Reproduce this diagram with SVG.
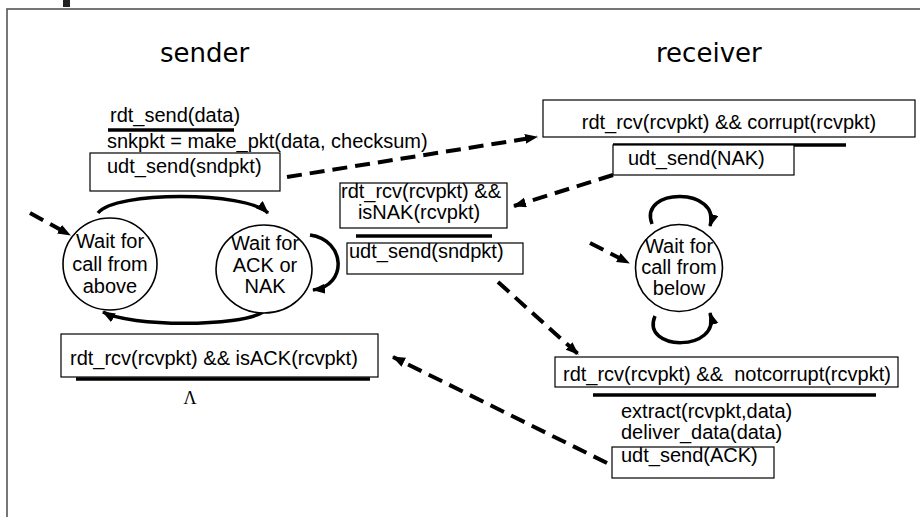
<svg xmlns="http://www.w3.org/2000/svg" width="920" height="517" viewBox="0 0 920 517">
<style>
.t{font-family:"Liberation Sans",Arial,sans-serif;font-size:20px;fill:#000}
.h{font-family:"DejaVu Sans",Verdana,sans-serif;font-size:26px;fill:#000}
.box{fill:#fff;stroke:#000;stroke-width:1.2}
.st{fill:#fff;stroke:#000;stroke-width:1.6}
.bar{stroke:#000;stroke-width:3.5}
.dash{fill:none;stroke:#000;stroke-width:4;stroke-dasharray:15 8;marker-end:url(#ah)}
.arc{fill:none;stroke:#000;stroke-width:3.5;marker-end:url(#ah)}
.m{text-anchor:middle}
</style>
<defs>
<marker id="ah" markerUnits="userSpaceOnUse" markerWidth="14" markerHeight="12" refX="12" refY="5" orient="auto">
<path d="M0,0 L13,5 L0,10 z" fill="#000"/>
</marker>
</defs>
<rect x="0" y="0" width="920" height="517" fill="#fff"/>
<rect x="7" y="9" width="930" height="530" fill="none" stroke="#555" stroke-width="1.6"/>
<rect x="63" y="0" width="7" height="7" fill="#222"/>
<text class="h" x="160" y="62">sender</text>
<text class="h" x="656" y="62">receiver</text>

<g id="connectors">
<path class="dash" d="M287,177 L537,137"/>
<path class="dash" d="M613,175 L514,206"/>
<path class="dash" d="M498,282 L578,354"/>
<path class="dash" d="M607,463 L393,357"/>
<path class="dash" d="M30,213 L70,235"/>
<path class="dash" d="M590,243 L629,263"/>
<path class="arc" d="M98,213 C115,191 245,191 268,213"/>
<path class="arc" d="M263,312 C240,327 130,327 103,312"/>
<path class="arc" d="M310,235 C346,240 348,286 313,290"/>
<path class="arc" d="M652,224 C638,187 722,187 710,226"/>
<path class="arc" d="M655,316 C640,352 722,352 710,313"/>
</g>

<g id="state-wait-above">
<ellipse class="st" cx="110" cy="264" rx="47" ry="46"/>
<text class="t m" x="110" y="248">Wait for</text>
<text class="t m" x="110" y="271">call from</text>
<text class="t m" x="110" y="293">above</text>
</g>
<g id="state-wait-ack">
<ellipse class="st" cx="264" cy="269" rx="48" ry="44"/>
<text class="t m" x="265" y="250">Wait for</text>
<text class="t m" x="265" y="272">ACK or</text>
<text class="t m" x="265" y="293">NAK</text>
</g>
<g id="state-wait-below">
<circle class="st" cx="679" cy="268" r="43.5"/>
<text class="t m" x="679" y="253">Wait for</text>
<text class="t m" x="679" y="274">call from</text>
<text class="t m" x="679" y="295">below</text>
</g>

<g id="label-send">
<text class="t" x="110" y="122">rdt_send(data)</text>
<line class="bar" x1="108" y1="130" x2="234" y2="130"/>
<text class="t" x="107" y="148">snkpkt = make_pkt(data, checksum)</text>
<rect class="box" x="90" y="153" width="190" height="38"/>
<text class="t" x="107" y="173">udt_send(sndpkt)</text>
</g>

<g id="label-corrupt">
<rect class="box" x="543" y="100" width="372" height="37"/>
<text class="t m" x="729" y="129">rdt_rcv(rcvpkt) &amp;&amp; corrupt(rcvpkt)</text>
<line class="bar" x1="613" y1="145" x2="846" y2="145"/>
<rect class="box" x="613" y="145" width="181" height="30"/>
<text class="t" x="628" y="165">udt_send(NAK)</text>
</g>

<g id="label-nak">
<rect class="box" x="340" y="183" width="167" height="45"/>
<text class="t m" x="421" y="198">rdt_rcv(rcvpkt) &amp;&amp;</text>
<text class="t m" x="419" y="219">isNAK(rcvpkt)</text>
<line class="bar" x1="356" y1="236" x2="492" y2="236"/>
<rect class="box" x="347" y="243" width="176" height="31"/>
<text class="t" x="349" y="258">udt_send(sndpkt)</text>
</g>

<g id="label-ack">
<rect class="box" x="61" y="334" width="317" height="43"/>
<text class="t" x="70" y="365">rdt_rcv(rcvpkt) &amp;&amp; isACK(rcvpkt)</text>
<line class="bar" x1="76" y1="379" x2="370" y2="379"/>
<text x="190" y="404" text-anchor="middle" style="font-family:'Liberation Serif','Times New Roman',serif;font-size:18px">Λ</text>
</g>

<g id="label-notcorrupt">
<rect class="box" x="555" y="357" width="343" height="30"/>
<text class="t" x="563" y="381" xml:space="preserve" style="white-space:pre">rdt_rcv(rcvpkt) &amp;&amp;  notcorrupt(rcvpkt)</text>
<line class="bar" x1="593" y1="395" x2="876" y2="395"/>
<text class="t" x="621" y="418">extract(rcvpkt,data)</text>
<text class="t" x="621" y="439">deliver_data(data)</text>
<rect class="box" x="612" y="447" width="162" height="31"/>
<text class="t" x="621" y="462">udt_send(ACK)</text>
</g>
</svg>
